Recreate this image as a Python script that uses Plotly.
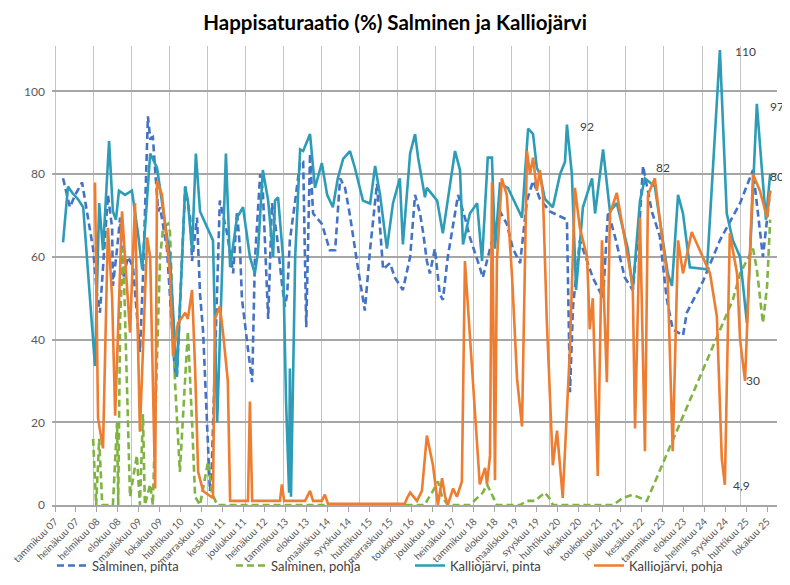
import plotly.graph_objects as go

# x values are decimal years
salminen_pinta_t = [2007.21, 2007.39, 2007.53, 2007.71, 2008.00, 2008.10, 2008.18, 2008.31, 2008.39, 2008.50,
                    2008.52, 2008.63, 2008.71, 2008.79, 2008.92, 2009.05, 2009.23, 2009.31, 2009.44, 2009.50,
                    2009.57, 2009.63, 2009.71, 2009.76, 2009.94, 2010.15, 2010.20, 2010.42, 2010.55, 2010.60,
                    2010.73, 2010.81, 2010.89, 2011.07, 2011.12, 2011.33, 2011.52, 2011.68, 2011.78, 2011.86,
                    2011.91, 2012.07, 2012.18, 2012.25, 2012.39, 2012.46, 2012.55, 2012.60, 2012.70, 2012.83,
                    2012.96, 2013.04, 2013.10, 2013.17, 2013.31, 2013.44, 2013.52, 2013.60, 2013.70, 2013.78,
                    2014.01, 2014.22, 2014.36, 2014.49, 2014.62, 2014.75, 2014.93, 2015.09, 2015.14, 2015.28,
                    2015.46, 2015.54, 2015.62, 2015.80, 2015.93, 2016.14, 2016.33, 2016.46, 2016.59, 2016.67,
                    2016.77, 2016.85, 2016.98, 2017.11, 2017.19, 2017.32, 2017.59, 2017.77, 2017.90, 2018.16,
                    2018.24, 2018.43, 2018.69, 2018.87, 2019.03, 2019.22, 2019.40, 2019.56, 2019.74, 2020.00,
                    2020.45, 2020.53, 2020.61, 2020.79, 2021.13, 2021.40, 2021.53, 2021.71, 2021.97, 2022.18,
                    2022.37, 2022.45, 2022.68, 2022.89, 2023.07, 2023.23, 2023.50, 2023.60, 2024.02, 2024.47,
                    2025.00, 2025.34, 2025.60, 2025.79]
salminen_pinta_v = [79, 72, 75, 78, 62, 51, 46.5, 64, 75, 67,
                    53, 62, 69.5, 55, 60, 57.5, 37, 55, 94, 88.7,
                    89, 81, 71, 72, 62, 32, 31, 77, 69.5, 59,
                    69.5, 51, 42, 3.4, 9.6, 73.6, 65.7, 56, 71, 62,
                    50, 37.6, 29.7, 59, 80, 76, 57.5, 45, 73, 65,
                    53.7, 48, 51, 64, 73.6, 83, 83, 43, 85, 70.5,
                    68, 61.6, 61.6, 79, 76.7, 70, 59, 49, 47, 62,
                    77.7, 67, 57, 58.5, 55, 52, 60, 75, 70.5, 66,
                    59, 56, 62, 51, 49.6, 60, 75, 69.5, 64.7, 57.5,
                    55, 62, 71, 68, 62, 58.5, 73.6, 78.4, 74, 71,
                    69, 27.3, 48, 64, 55, 50, 71, 65, 55, 52,
                    70, 82, 71, 65, 50, 42.5, 41, 46.5, 54, 64,
                    73, 81, 60, 76]

salminen_pohja_t = [2008.00, 2008.08, 2008.16, 2008.24, 2008.52, 2008.63, 2008.66, 2008.71, 2008.79, 2008.89,
                    2008.97, 2009.15, 2009.23, 2009.31, 2009.36, 2009.50, 2009.57, 2009.71, 2009.76, 2009.84,
                    2009.97, 2010.02, 2010.15, 2010.28, 2010.42, 2010.49, 2010.60, 2010.68, 2010.81, 2010.94,
                    2011.02, 2011.12, 2011.26, 2016.72, 2016.77, 2016.93, 2017.06, 2017.17, 2017.32, 2017.90,
                    2018.09, 2018.24, 2018.35, 2018.51, 2018.61, 2019.22, 2019.40, 2019.61, 2019.74, 2019.87,
                    2020.00, 2020.08, 2021.66, 2021.92, 2022.18, 2022.55, 2024.81, 2025.00, 2025.34, 2025.44,
                    2025.60, 2025.71, 2025.79]
salminen_pohja_v = [16, 0, 16, 0, 0, 20, 0, 45, 62, 26,
                    2, 12, 0, 22, 0, 5, 0, 45, 60, 67,
                    68, 66, 30, 8, 32, 42, 20, 2, 0, 6,
                    10.5, 3, 0, 0, 1, 3.4, 5.7, 2, 0, 0,
                    1.7, 3, 5, 2, 0, 0, 1, 1, 2, 3,
                    1.5, 0, 0, 1.7, 2.5, 1, 49.6, 56, 62, 57,
                    44, 53, 69]

kallio_pinta_t = [2007.21, 2007.34, 2007.45, 2007.60, 2007.74, 2008.05, 2008.16, 2008.26, 2008.42, 2008.52,
                  2008.60, 2008.68, 2008.84, 2009.02, 2009.18, 2009.29, 2009.42, 2009.50, 2009.68, 2009.81,
                  2010.02, 2010.20, 2010.42, 2010.49, 2010.60, 2010.70, 2010.81, 2011.15, 2011.26, 2011.49,
                  2011.54, 2011.60, 2011.78, 2011.94, 2012.12, 2012.25, 2012.33, 2012.46, 2012.60, 2012.73,
                  2012.78, 2012.86, 2012.99, 2013.07, 2013.15, 2013.17, 2013.20, 2013.31, 2013.44, 2013.52,
                  2013.70, 2013.83, 2014.01, 2014.15, 2014.30, 2014.43, 2014.57, 2014.75, 2014.88, 2015.09,
                  2015.28, 2015.41, 2015.54, 2015.72, 2015.88, 2016.06, 2016.14, 2016.33, 2016.46, 2016.54,
                  2016.72, 2016.77, 2017.04, 2017.19, 2017.51, 2017.64, 2017.72, 2017.90, 2018.09, 2018.22,
                  2018.37, 2018.48, 2018.56, 2018.69, 2018.90, 2019.27, 2019.43, 2019.56, 2019.66, 2019.74,
                  2019.87, 2020.08, 2020.27, 2020.40, 2020.45, 2020.58, 2020.69, 2020.87, 2021.11, 2021.19,
                  2021.40, 2021.58, 2021.76, 2022.05, 2022.18, 2022.37, 2022.50, 2022.63, 2022.76, 2023.10,
                  2023.21, 2023.37, 2023.50, 2023.68, 2024.13, 2024.47, 2024.65, 2024.81, 2025.00, 2025.18,
                  2025.44, 2025.57, 2025.68, 2025.79]
kallio_pinta_v = [63.5, 77, 75.5, 74, 72, 33.6, 73, 61.6, 88, 71,
                  69, 76, 75, 76, 65.7, 57, 74.3, 85, 81.5, 73.6,
                  60, 31, 77, 73.6, 61.6, 85, 71, 64, 20, 85,
                  71, 57.5, 69.5, 72, 60, 56, 61, 81, 73.6, 60,
                  73.6, 74.4, 60, 25, 3, 33, 2, 60, 86, 85.6,
                  89.7, 76.7, 82.7, 75, 72, 79, 83.7, 85.6, 81.5, 73.6,
                  72.9, 82, 75, 62, 73, 79, 63, 85, 89.7, 84,
                  74.4, 76.7, 73.6, 65.7, 85.6, 81, 63, 70.5, 73, 59,
                  84, 84, 62, 77.7, 76.7, 69.5, 91, 89.7, 81.5, 80,
                  74, 72, 80, 83, 92, 80, 52, 72, 79, 70.5,
                  86, 71, 73, 62, 52, 73.6, 79, 78, 77, 56,
                  53, 75, 70.5, 57.5, 57, 110, 70.5, 64, 60, 44,
                  97, 81.5, 69, 80]

kallio_pohja_t = [2008.05, 2008.13, 2008.26, 2008.39, 2008.50, 2008.58, 2008.76, 2008.97, 2009.10, 2009.23,
                  2009.42, 2009.50, 2009.63, 2009.68, 2009.81, 2010.02, 2010.10, 2010.23, 2010.42, 2010.49,
                  2010.60, 2010.68, 2010.76, 2010.89, 2011.15, 2011.20, 2011.33, 2011.41, 2011.54, 2011.60,
                  2012.07, 2012.12, 2012.18, 2012.91, 2012.96, 2013.02, 2013.57, 2013.70, 2013.78, 2014.01,
                  2014.09, 2014.17, 2016.19, 2016.25, 2016.33, 2016.51, 2016.64, 2016.77, 2016.93, 2017.06,
                  2017.17, 2017.25, 2017.32, 2017.46, 2017.56, 2017.69, 2017.77, 2017.98, 2018.16, 2018.30,
                  2018.35, 2018.43, 2018.48, 2018.56, 2018.61, 2018.74, 2018.87, 2019.01, 2019.14, 2019.27,
                  2019.40, 2019.48, 2019.56, 2019.66, 2019.74, 2019.82, 2019.92, 2020.08, 2020.19, 2020.34,
                  2020.53, 2020.66, 2020.79, 2020.98, 2021.05, 2021.13, 2021.26, 2021.37, 2021.50, 2021.58,
                  2021.76, 2022.05, 2022.18, 2022.24, 2022.37, 2022.50, 2022.58, 2022.76, 2022.89, 2023.10,
                  2023.23, 2023.37, 2023.50, 2023.73, 2024.21, 2024.39, 2024.52, 2024.60, 2024.73, 2024.92,
                  2025.00, 2025.13, 2025.34, 2025.52, 2025.71, 2025.79]
kallio_pohja_v = [78, 21, 13.7, 67, 50, 21.6, 71, 41.7, 73, 17.7,
                  64.7, 60, 4, 78.4, 75, 56, 36, 44, 46.5, 45,
                  52, 33, 8, 3.4, 1.7, 45, 48, 42, 30, 1,
                  1, 25, 1, 1, 5, 1, 1, 3.4, 1, 1,
                  2.5, 0.3, 0.3, 1.7, 3, 1, 3.4, 16.8, 9.6, 0,
                  6.5, 2, 0, 4, 2, 5.7, 59, 30, 5, 9,
                  5, 12, 78, 6, 59, 79, 75, 55, 30.5, 19,
                  85.6, 80, 84, 76, 81, 75, 45, 9.6, 18, 1.7,
                  38, 76.7, 67, 60, 42.5, 50, 7, 64, 29.7, 70.5,
                  75.5, 60, 52.7, 18.5, 69.5, 13, 75, 79, 69, 54.4,
                  13, 64, 56, 66, 56, 45.6, 11, 4.9, 65.7, 56,
                  40, 30, 80, 76, 69.5, 76]

tick_labels = ["tammikuu 07", "heinäkuu 07", "helmikuu 08", "elokuu 08", "maaliskuu 09", "lokakuu 09",
               "huhtikuu 10", "marraskuu 10", "kesäkuu 11", "joulukuu 11", "heinäkuu 12", "tammikuu 13",
               "elokuu 13", "maaliskuu 14", "syyskuu 14", "huhtikuu 15", "marraskuu 15", "toukokuu 16",
               "joulukuu 16", "heinäkuu 17", "tammikuu 18", "elokuu 18", "maaliskuu 19", "syyskuu 19",
               "huhtikuu 20", "lokakuu 20", "toukokuu 21", "joulukuu 21", "kesäkuu 22", "tammikuu 23",
               "elokuu 23", "helmikuu 24", "syyskuu 24", "huhtikuu 25", "lokakuu 25"]

# value labels written next to the extremes (left edge of the text)
label_texts = ["110", "97", "92", "82", "80", "30", "4,9"]
label_t = [2024.82, 2025.73, 2020.73, 2022.74, 2025.74, 2025.11, 2024.77]
label_v = [109.6, 96.4, 91.6, 81.5, 79.4, 30.2, 4.8]

FONT = "Lato, 'Open Sans', sans-serif"
step = 201 / 365.25
tick_vals = [2007 + i * step for i in range(len(tick_labels))]

fig = go.Figure()
fig.add_trace(go.Scatter(x=salminen_pinta_t, y=salminen_pinta_v, mode="lines", name="Salminen, pinta",
                         line=dict(color="#4472C4", width=2.6, dash="7px,4px")))
fig.add_trace(go.Scatter(x=salminen_pohja_t, y=salminen_pohja_v, mode="lines", name="Salminen, pohja",
                         line=dict(color="#7FB443", width=2.6, dash="7px,4px")))
fig.add_trace(go.Scatter(x=kallio_pinta_t, y=kallio_pinta_v, mode="lines", name="Kalliojärvi, pinta",
                         line=dict(color="#2E9CB6", width=2.6)))
fig.add_trace(go.Scatter(x=kallio_pohja_t, y=kallio_pohja_v, mode="lines", name="Kalliojärvi, pohja",
                         line=dict(color="#ED7D31", width=2.6)))

for txt, t, v in zip(label_texts, label_t, label_v):
    fig.add_annotation(x=t, y=v, text=txt, showarrow=False, xanchor="left",
                       font=dict(family=FONT, size=12, color="#404040"))

# the page body adds an 8px offset, margins compensate for it
fig.update_layout(
    width=790, height=585, autosize=False,
    margin=dict(l=44, r=21, t=38, b=76),
    paper_bgcolor="white", plot_bgcolor="white",
    font=dict(family=FONT, size=12, color="#595959"),
    title=dict(text="<b>Happisaturaatio (%) Salminen ja Kalliojärvi</b>", x=0.49, xanchor="center",
               y=0.975, yanchor="middle", font=dict(family=FONT, size=20.5, color="#000000")),
    showlegend=True,
    legend=dict(orientation="h", x=0.0, xanchor="left", y=-0.132, yanchor="middle",
                font=dict(family=FONT, size=13, color="#404040"), entrywidth=134, bgcolor="rgba(0,0,0,0)"),
)
fig.update_xaxes(range=[2006.92, 2025.97], tickmode="array", tickvals=tick_vals, ticktext=tick_labels,
                 tickangle=-45, tickfont=dict(size=10, color="#595959"), ticks="outside", ticklen=5,
                 tickcolor="#A6A6A6", showline=True, linecolor="#A6A6A6", linewidth=1.5,
                 showgrid=False, zeroline=False, automargin=False,
                 minor=dict(tickmode="linear", tick0=2008, dtick=1, showgrid=True,
                            gridcolor="#C4C4C4", gridwidth=1, ticks=""))
fig.update_yaxes(range=[0, 111], tickmode="linear", tick0=0, dtick=20, showgrid=True, gridcolor="#A6A6A6",
                 gridwidth=1.5, zeroline=False, showline=False, ticks="", ticklabelstandoff=6,
                 automargin=False, tickfont=dict(size=12, color="#595959"))

fig.write_html("out.html")
